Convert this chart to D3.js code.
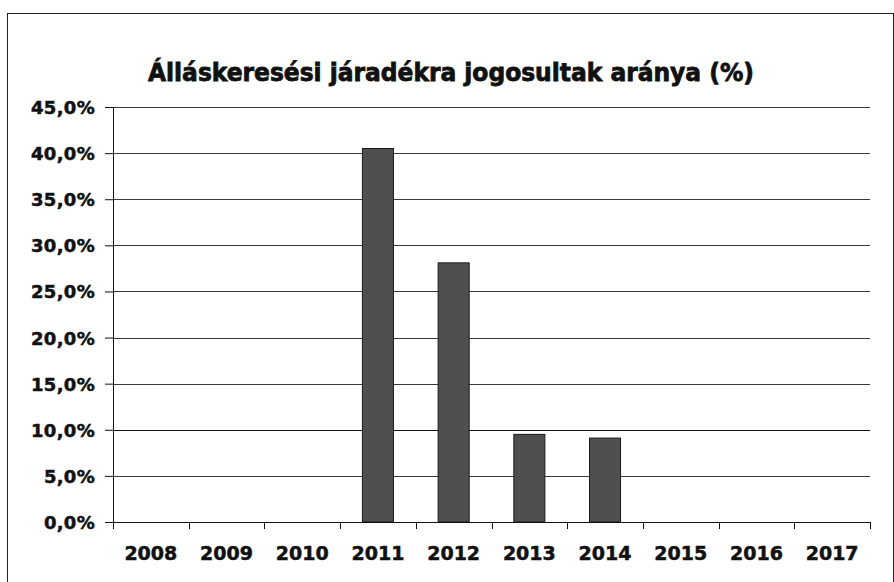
<!DOCTYPE html>
<html lang="hu">
<head>
<meta charset="UTF-8">
<title>Álláskeresési járadékra jogosultak aránya</title>
<script src="https://cdn.jsdelivr.net/npm/d3@7"></script>
<style>
    body { margin: 0; background: #fff; }
    svg text { font-family: "DejaVu Sans", sans-serif; font-weight: bold; fill: #111; stroke: #111; stroke-width: 0.5px; }
</style>
</head>
<body>
<div id="chart"></div>
<script>
    var WIDTH = 894, HEIGHT = 582;

    var TITLE = "Álláskeresési járadékra jogosultak aránya (%)";
    var YEARS = ["2008", "2009", "2010", "2011", "2012", "2013", "2014", "2015", "2016", "2017"];
    var VALUES = [null, null, null, 40.5, 28.1, 9.5, 9.1, null, null, null];
    var Y_TICKS = [0, 5, 10, 15, 20, 25, 30, 35, 40, 45];

    var margin = {left: 113, right: 24, top: 107, bottom: 60};

    var svg = d3.select("#chart").append("svg")
        .attr("width", WIDTH)
        .attr("height", HEIGHT);

    // chart frame
    svg.append("rect")
        .attr("x", 7.5).attr("y", 13.5)
        .attr("width", 886).attr("height", 580)
        .attr("fill", "none")
        .attr("stroke", "#222");

    svg.append("text")
        .attr("x", 451).attr("y", 81)
        .attr("text-anchor", "middle")
        .attr("textLength", 606)
        .attr("lengthAdjust", "spacingAndGlyphs")
        .style("font-size", "24px")
        .style("stroke-width", "0.8px")
        .text(TITLE);

    var x = d3.scaleBand()
        .domain(YEARS)
        .range([margin.left, WIDTH - margin.right])
        .paddingInner(0.59)
        .paddingOuter(0.295);

    var y = d3.scaleLinear()
        .domain([0, 45])
        .range([522, margin.top]);

    // gridlines
    svg.append("g")
        .selectAll("line")
        .data(Y_TICKS.slice(1))
        .join("line")
        .attr("x1", margin.left).attr("x2", WIDTH - margin.right)
        .attr("y1", function(d) { return Math.round(y(d)) + 0.5; })
        .attr("y2", function(d) { return Math.round(y(d)) + 0.5; })
        .attr("stroke", function(d) { return d === 10 ? "#111" : "#3a3a3a"; })
        .attr("stroke-width", 1);

    // bars
    svg.append("g")
        .selectAll("rect")
        .data(YEARS.map(function(yr, i) { return {year: yr, value: VALUES[i]}; })
            .filter(function(d) { return d.value !== null; }))
        .join("rect")
        .attr("x", function(d) { return x(d.year); })
        .attr("y", function(d) { return y(d.value); })
        .attr("width", x.bandwidth())
        .attr("height", function(d) { return y(0) - y(d.value); })
        .attr("fill", "#4f4f4f")
        .attr("stroke", "#1a1a1a")
        .attr("stroke-width", 1);

    // y axis
    var yAxis = svg.append("g")
        .attr("transform", "translate(" + margin.left + ",0)")
        .call(d3.axisLeft(y)
            .tickValues(Y_TICKS)
            .tickSize(8)
            .tickPadding(10)
            .tickFormat(function(d) { return d.toFixed(1).replace(".", ",") + "%"; }));
    yAxis.select(".domain").attr("stroke", "#111");
    yAxis.selectAll(".tick line").attr("stroke", "#111");
    yAxis.selectAll("text")
        .attr("fill", "#111")
        .attr("dy", "0.36em")
        .style("font-size", "18px")
        .style("font-family", "'DejaVu Sans', sans-serif")
        .style("font-weight", "bold")
        .style("letter-spacing", "0.3px");

    // x axis with ticks at category boundaries
    var xAxisG = svg.append("g")
        .attr("transform", "translate(0," + y(0) + ")");
    xAxisG.append("line")
        .attr("x1", margin.left).attr("x2", WIDTH - margin.right)
        .attr("y1", 0.5).attr("y2", 0.5)
        .attr("stroke", "#111");
    var step = x.step();
    xAxisG.selectAll("line.tk")
        .data(d3.range(YEARS.length + 1))
        .join("line")
        .attr("class", "tk")
        .attr("x1", function(i) { return Math.round(margin.left + i * step) + 0.5; })
        .attr("x2", function(i) { return Math.round(margin.left + i * step) + 0.5; })
        .attr("y1", 0).attr("y2", 7)
        .attr("stroke", "#111");
    xAxisG.selectAll("text")
        .data(YEARS)
        .join("text")
        .attr("x", function(d) { return x(d) + x.bandwidth() / 2; })
        .attr("y", 38)
        .attr("text-anchor", "middle")
        .style("font-size", "19px")
        .text(function(d) { return d; });
</script>
</body>
</html>
